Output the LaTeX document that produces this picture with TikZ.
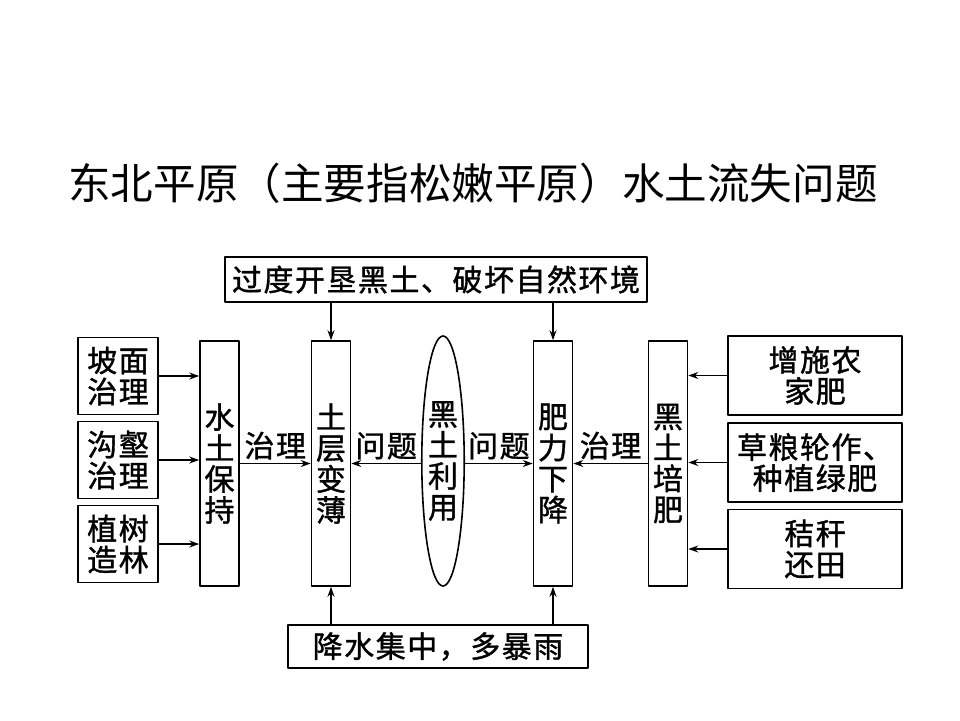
\documentclass[tikz,border=0pt]{standalone}
\usepackage{fontspec}
\newfontfamily\cjk[LetterSpace=5,FakeBold=1.2]{Noto Sans CJK SC}
\newfontfamily\cjktitle{Noto Sans CJK SC}
\usetikzlibrary{arrows.meta,shapes.geometric}
\begin{document}
\begin{tikzpicture}[x=1pt,y=-1pt,>={Stealth[length=10pt,width=7pt]},line join=round,
    font=\cjk\fontsize{30}{31}\selectfont,
    box/.style={draw,line width=1.6pt,inner sep=0pt,align=center},
    tall/.style={box,minimum width=39,minimum height=245},
    side/.style={box,minimum height=77},
    lnk/.style={->,line width=1.4pt}]
    \useasboundingbox (0,0) rectangle (960,720);
    \node[font=\cjktitle\fontsize{42.6}{46}\selectfont] (title) at (473,183) {东北平原（主要指松嫩平原）水土流失问题};
    \node[box,minimum width=422,minimum height=45] (top) at (436,279.5) {过度开垦黑土、破坏自然环境};
    \node[box,minimum width=300,minimum height=43] (rain) at (438,646.5) {降水集中，多暴雨};
    \node[side,minimum width=80] (slope) at (118,376) {坡面\\治理};
    \node[side,minimum width=80] (gully) at (118,460) {沟壑\\治理};
    \node[side,minimum width=80] (forest) at (118,544) {植树\\造林};
    \node[tall] (keep) at (219.5,463.5) {水\\土\\保\\持};
    \node[tall] (thin) at (331,463.5) {土\\层\\变\\薄};
    \node[ellipse,draw,line width=1.6pt,inner sep=0pt,minimum width=42,minimum height=250,align=center] (use) at (443,461) {黑\\土\\利\\用};
    \node[tall] (fert) at (553,463.5) {肥\\力\\下\\降};
    \node[tall] (feed) at (668,463.5) {黑\\土\\培\\肥};
    \node[side,minimum width=174,minimum height=79] (manure) at (815,375.5) {增施农\\家肥};
    \node[side,minimum width=174,minimum height=79] (rotate) at (815,462.5) {草粮轮作、\\种植绿肥};
    \node[side,minimum width=174,minimum height=79] (straw) at (815,549) {秸秆\\还田};
    \foreach \s in {slope,gully,forest}\draw[lnk] (\s.east) -- (\s -| keep.west);
    \foreach \s in {manure,rotate,straw}\draw[lnk] (\s.west) -- (\s -| feed.east);
    \draw[lnk] (keep.east) -- node[above]{治理} (thin.west);
    \draw[lnk] (thin -| use.west) -- node[above]{问题} (thin.east);
    \draw[lnk] (fert -| use.east) -- node[above]{问题} (fert.west);
    \draw[lnk] (feed.west) -- node[above]{治理} (fert.east);
    \foreach \s in {thin,fert}{
        \draw[lnk] (top.south -| \s) -- (\s.north);
        \draw[lnk] (rain.north -| \s) -- (\s.south);
    }
\end{tikzpicture}
\end{document}
